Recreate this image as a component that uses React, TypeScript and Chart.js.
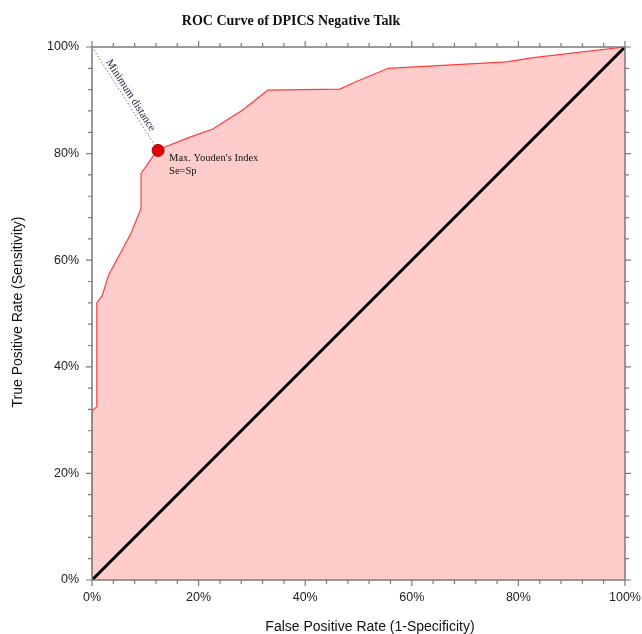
import React, { useEffect, useRef } from "react";
import { Chart, registerables } from "chart.js";

Chart.register(...registerables);

const rocFpr = [0, 0, 0.9, 0.9, 1.9, 3.1, 7.3, 9.2, 9.2, 11.6, 12.4, 13.3, 18.4, 22.7, 25.3, 28.3, 33.0, 46.5, 49.3, 55.6, 77.8, 82.8, 100];
const rocTpr = [0, 31.7, 32.5, 52.0, 53.3, 57.2, 65.0, 69.7, 76.3, 79.7, 80.6, 81.1, 83.1, 84.6, 86.3, 88.2, 91.9, 92.1, 93.4, 96.0, 97.2, 98.0, 100];
const refFpr = [0, 100];
const refTpr = [0, 100];
const youdenFpr = [12.4];
const youdenTpr = [80.6];
const tickValues = [0, 20, 40, 60, 80, 100];
const minorStep = 4;

const titleText = "ROC Curve of DPICS Negative Talk";
const xTitle = "False Positive Rate (1-Specificity)";
const yTitle = "True Positive Rate (Sensitivity)";

const decorPlugin = {
  id: "decor",
  afterDatasetsDraw(chart: any) {
    const { ctx, chartArea, scales } = chart;
    const xs = scales.x;
    const ys = scales.y;
    const { left, right, top, bottom } = chartArea;
    ctx.save();
    // frame
    ctx.strokeStyle = "#7a7a7a";
    ctx.lineWidth = 1.5;
    ctx.strokeRect(left, top, right - left, bottom - top);
    // ticks
    ctx.lineWidth = 1.2;
    for (let v = 0; v <= 100; v += minorStep) {
      const major = v % 20 === 0;
      const len = major ? 6 : 4;
      const px = xs.getPixelForValue(v);
      const py = ys.getPixelForValue(v);
      ctx.beginPath();
      ctx.moveTo(px, bottom);
      ctx.lineTo(px, bottom + len);
      ctx.moveTo(px, top);
      ctx.lineTo(px, top - len);
      ctx.moveTo(left, py);
      ctx.lineTo(left - len, py);
      ctx.moveTo(right, py);
      ctx.lineTo(right + len, py);
      ctx.stroke();
    }
    // title
    ctx.fillStyle = "#111";
    ctx.font = "bold 14px 'Liberation Serif'";
    ctx.textAlign = "center";
    ctx.textBaseline = "middle";
    ctx.fillText(titleText, 291, 21);
    // axis titles
    ctx.fillStyle = "#111";
    ctx.font = "14px 'Liberation Sans'";
    ctx.fillText(xTitle, 370, 627);
    ctx.save();
    ctx.translate(18, 312);
    ctx.rotate(-Math.PI / 2);
    ctx.fillText(yTitle, 0, 0);
    ctx.restore();
    // annotations
    const dx = xs.getPixelForValue(youdenFpr[0]);
    const dy = ys.getPixelForValue(youdenTpr[0]);
    ctx.font = "10.5px 'Liberation Serif'";
    ctx.textAlign = "left";
    ctx.textBaseline = "alphabetic";
    ctx.fillStyle = "#111";
    ctx.fillText("Max. Youden's Index", dx + 11, dy + 11);
    ctx.fillText("Se=Sp", dx + 11, dy + 24);
    const x0 = xs.getPixelForValue(0);
    const y0 = ys.getPixelForValue(100);
    const ang = Math.atan2(dy - y0, dx - x0);
    ctx.save();
    ctx.translate(x0, y0);
    ctx.rotate(ang);
    ctx.textAlign = "left";
    ctx.textBaseline = "bottom";
    ctx.font = "11px 'Liberation Serif'";
    ctx.fillStyle = "#1a1a3a";
    ctx.fillText("Minimum distance", 20, -1);
    ctx.restore();
    ctx.restore();
  },
};

export default function App() {
  const ref = useRef<HTMLCanvasElement>(null);
  useEffect(() => {
    if (!ref.current) return;
    const chart = new Chart(ref.current, {
      type: "line",
      data: {
        datasets: [
          {
            label: "Min distance",
            data: [
              { x: 0, y: 100 },
              { x: youdenFpr[0], y: youdenTpr[0] },
            ],
            borderColor: "#777",
            borderWidth: 1,
            borderDash: [1.5, 2],
            pointRadius: 0,
            fill: false,
            order: 1,
          },
          {
            label: "Youden",
            data: youdenFpr.map((x, i) => ({ x, y: youdenTpr[i] })),
            showLine: false,
            pointRadius: 6,
            pointBackgroundColor: "#e00000",
            pointBorderColor: "#b00000",
            pointBorderWidth: 1,
            order: 0,
          },
          {
            label: "Reference",
            data: refFpr.map((x, i) => ({ x, y: refTpr[i] })),
            borderColor: "#000",
            borderWidth: 3,
            pointRadius: 0,
            fill: false,
            order: 2,
          },
          {
            label: "ROC",
            data: rocFpr.map((x, i) => ({ x, y: rocTpr[i] })),
            borderColor: "rgb(255,60,60)",
            backgroundColor: "rgb(255,204,204)",
            borderWidth: 1.2,
            pointRadius: 0,
            fill: "origin",
            tension: 0,
            order: 3,
          },
        ],
      },
      options: {
        animation: false,
        responsive: true,
        maintainAspectRatio: false,
        layout: { padding: { top: 47, right: 17, left: 0, bottom: 0 } },
        plugins: {
          legend: { display: false },
          tooltip: { enabled: false },
          title: { display: false },
        },
        scales: {
          x: {
            type: "linear",
            min: 0,
            max: 100,
            afterFit: (s: any) => {
              s.height = 54;
              s.paddingLeft = 0;
              s.paddingRight = 0;
            },
            afterBuildTicks: (s: any) => {
              s.ticks = tickValues.map((v) => ({ value: v }));
            },
            ticks: {
              autoSkip: false,
              maxRotation: 0,
              padding: 10,
              color: "#222",
              font: { family: "'Liberation Sans'", size: 12.5 },
              callback: (v: any) => v + "%",
            },
            grid: { display: false, drawTicks: false },
            border: { display: false },
          },
          y: {
            type: "linear",
            min: 0,
            max: 100,
            afterFit: (s: any) => {
              s.width = 92;
              s.paddingTop = 0;
              s.paddingBottom = 0;
            },
            afterBuildTicks: (s: any) => {
              s.ticks = tickValues.map((v) => ({ value: v }));
            },
            ticks: {
              autoSkip: false,
              padding: 13,
              color: "#222",
              font: { family: "'Liberation Sans'", size: 12.5 },
              callback: (v: any) => v + "%",
            },
            grid: { display: false, drawTicks: false },
            border: { display: false },
          },
        },
      },
      plugins: [decorPlugin],
    });
    return () => chart.destroy();
  }, []);
  return (
    <div style={{ position: "fixed", left: 0, top: 0, width: 642, height: 634, background: "#fff" }}>
      <canvas ref={ref} />
    </div>
  );
}
